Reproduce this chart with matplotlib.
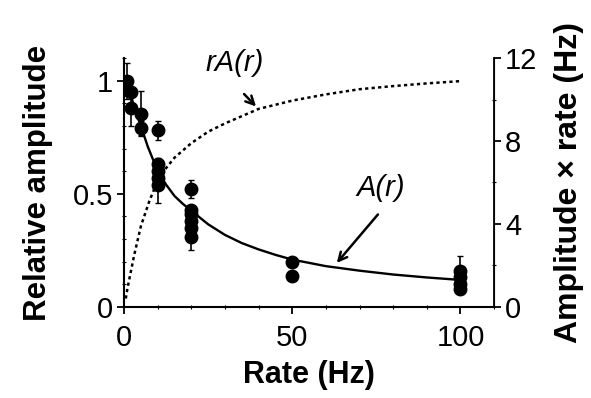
import matplotlib.pyplot as plt
from matplotlib.ticker import MultipleLocator

plt.rcParams["font.family"] = ["Liberation Sans", "DejaVu Sans"]

# measured points (rate in Hz, relative amplitude, error)
rates = [1, 1, 2, 2, 5, 5, 10, 10, 10, 10, 10, 20, 20, 20, 20, 20, 20, 50, 50, 100, 100, 100, 100]
amps = [1.0, 0.96, 0.95, 0.88, 0.855, 0.79, 0.78, 0.63, 0.60, 0.57, 0.54,
        0.52, 0.43, 0.41, 0.38, 0.35, 0.31, 0.20, 0.135, 0.16, 0.13, 0.10, 0.08]
errs = [0.08, 0.0, 0.0, 0.08, 0.1, 0.03, 0.04, 0.03, 0.0, 0.0, 0.08,
        0.04, 0.0, 0.0, 0.0, 0.0, 0.06, 0.0, 0.0, 0.065, 0.0, 0.0, 0.0]

# fitted curve A(r)
fit_rate = [1, 2, 3, 5, 7, 10, 12.5, 15, 17.5, 20, 25, 30, 35, 40, 45, 50, 60, 70, 80, 90, 100]
fit_amp = [0.98, 0.94, 0.88, 0.80, 0.71, 0.60, 0.54, 0.49, 0.455, 0.425, 0.365, 0.318, 0.282,
           0.254, 0.23, 0.209, 0.18, 0.16, 0.143, 0.13, 0.119]

# r*A(r) on the right axis
ra_rate = [0.5, 1, 2, 3, 5, 7.5, 10, 12.5, 15, 20, 25, 30, 40, 50, 60, 70, 80, 90, 100]
ra_val = [0.4, 0.9, 1.7, 2.5, 3.9, 5.1, 6.1, 6.7, 7.2, 7.9, 8.45, 8.85, 9.55, 9.95, 10.25,
          10.5, 10.65, 10.78, 10.89]

fig = plt.figure(figsize=(5.91, 3.98), dpi=100)
ax = fig.add_axes([0.21, 0.229, 0.626, 0.625])
ax2 = ax.twinx()

ax.errorbar(rates, amps, yerr=errs, fmt="o", color="black", ms=9, elinewidth=1.2, capsize=2, zorder=3)
ax.plot(fit_rate, fit_amp, color="black", lw=1.7)
ax2.plot(ra_rate, ra_val, color="black", lw=1.8, ls=(0, (1.3, 1.3)))

ax.set_xlim(0, 110)
ax.set_ylim(0, 1.1)
ax2.set_ylim(0, 12)

ax.set_xticks([0, 50, 100])
ax.set_yticks([0, 0.5, 1])
ax.set_yticklabels(["0", "0.5", "1"])
ax2.set_yticks([0, 4, 8, 12])
ax.xaxis.set_minor_locator(MultipleLocator(10))
ax.yaxis.set_minor_locator(MultipleLocator(0.1))
ax2.yaxis.set_minor_locator(MultipleLocator(2))

for a in (ax, ax2):
    a.spines["top"].set_visible(False)
    a.tick_params(which="major", direction="out", length=5, width=1.3, labelsize=21, pad=3)
    a.tick_params(which="minor", direction="inout", length=3, width=0.8)
ax.tick_params(axis="x", pad=7)
ax2.spines["left"].set_visible(False)
ax2.spines["bottom"].set_visible(False)
for s in ("left", "bottom"):
    ax.spines[s].set_linewidth(1.5)
ax2.spines["right"].set_linewidth(1.3)

ax.set_xlabel("Rate (Hz)", fontsize=22, fontweight="bold", labelpad=6)
ax.set_ylabel("Relative amplitude", fontsize=22.5, fontweight="bold", labelpad=14)
ax2.set_ylabel("Amplitude \u00d7 rate (Hz)", fontsize=23, fontweight="bold", labelpad=12)

ax.text(33, 1.08, "rA(r)", fontsize=21, style="italic", ha="center", va="center")
ax.annotate("", xy=(39.8, 0.877), xytext=(35.1, 0.95),
            arrowprops=dict(arrowstyle="->", lw=1.8, color="black", mutation_scale=15))
ax.text(76.3, 0.524, "A(r)", fontsize=21, style="italic", ha="center", va="center")
ax.annotate("", xy=(62.7, 0.185), xytext=(76, 0.418),
            arrowprops=dict(arrowstyle="->", lw=1.8, color="black", mutation_scale=15))

fig.savefig("out.png", dpi=100)
